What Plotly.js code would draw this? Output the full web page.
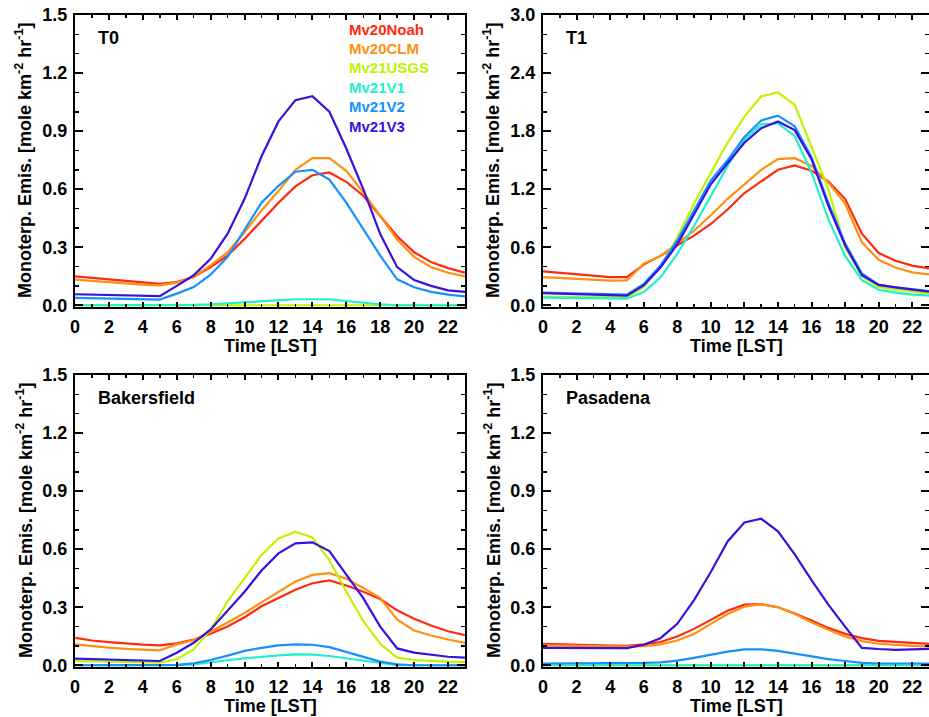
<!DOCTYPE html>
<html>
<head>
<meta charset="utf-8">
<script src="https://cdn.plot.ly/plotly-3.0.1.min.js"></script>
<style>html,body{margin:0;padding:0;background:#fff;}#chart{width:929px;height:717px;}</style>
</head>
<body>
<div id="chart"></div>
<script>
// ---- data ----
const hours = [0,1,2,3,4,5,6,7,8,9,10,11,12,13,14,15,16,17,18,19,20,21,22,23];
const seriesNames = ["Mv20Noah","Mv20CLM","Mv21USGS","Mv21V1","Mv21V2","Mv21V3"];
const seriesColors = ["#FF2A10","#FF9010","#BEF400","#22F0CC","#1690FF","#3A10E0"];
const panelNames = ["T0","T1","Bakersfield","Pasadena"];
const xTickVals = [0,2,4,6,8,10,12,14,16,18,20,22];

// T0
const t0_noah = [0.149,0.142,0.134,0.126,0.119,0.111,0.120,0.146,0.197,0.257,0.343,0.437,0.530,0.614,0.672,0.686,0.638,0.566,0.463,0.357,0.274,0.223,0.192,0.168];
const t0_clm  = [0.132,0.125,0.118,0.112,0.107,0.103,0.117,0.146,0.206,0.274,0.377,0.490,0.590,0.700,0.760,0.760,0.695,0.583,0.463,0.340,0.250,0.197,0.168,0.149];
const t0_usgs = [0,0,0,0,0,0,0,0,0,0,0,0,0,0,0,0,0,0,0,0,0,0,0,0];
const t0_v1   = [0,0,0,0,0,0,0,0.002,0.005,0.010,0.017,0.022,0.026,0.031,0.031,0.030,0.022,0.013,0.005,0,0,0,0,0];
const t0_v2   = [0.038,0.036,0.034,0.032,0.030,0.029,0.060,0.094,0.158,0.250,0.390,0.530,0.617,0.690,0.700,0.650,0.530,0.390,0.257,0.134,0.093,0.069,0.055,0.046];
const t0_v3   = [0.057,0.055,0.052,0.050,0.048,0.047,0.100,0.155,0.240,0.370,0.550,0.770,0.950,1.060,1.080,1.000,0.810,0.600,0.368,0.197,0.130,0.100,0.077,0.069];
// T1
const t1_noah = [0.35,0.335,0.32,0.305,0.29,0.29,0.42,0.51,0.62,0.72,0.84,0.99,1.16,1.28,1.40,1.445,1.39,1.28,1.10,0.74,0.54,0.46,0.41,0.38];
const t1_clm  = [0.29,0.28,0.27,0.26,0.255,0.256,0.43,0.51,0.64,0.77,0.93,1.10,1.25,1.40,1.51,1.52,1.44,1.27,1.05,0.65,0.47,0.39,0.34,0.32];
const t1_usgs = [0.09,0.088,0.086,0.084,0.082,0.082,0.19,0.40,0.70,1.05,1.37,1.68,1.95,2.16,2.20,2.07,1.64,1.20,0.60,0.30,0.19,0.16,0.14,0.12];
const t1_v1   = [0.078,0.076,0.074,0.072,0.070,0.068,0.137,0.29,0.53,0.82,1.13,1.44,1.71,1.87,1.88,1.75,1.37,0.89,0.51,0.26,0.16,0.13,0.11,0.10];
const t1_v2   = [0.13,0.125,0.12,0.115,0.11,0.11,0.22,0.41,0.67,0.98,1.29,1.50,1.74,1.91,1.96,1.85,1.53,1.06,0.64,0.33,0.21,0.185,0.165,0.145];
const t1_v3   = [0.126,0.12,0.115,0.11,0.105,0.10,0.205,0.39,0.63,0.94,1.25,1.47,1.68,1.83,1.90,1.81,1.51,1.03,0.62,0.31,0.21,0.185,0.16,0.14];
// Bakersfield
const bk_noah = [0.142,0.128,0.120,0.113,0.107,0.103,0.113,0.133,0.163,0.200,0.248,0.305,0.347,0.390,0.424,0.438,0.412,0.380,0.342,0.284,0.240,0.205,0.176,0.156];
const bk_clm  = [0.108,0.099,0.091,0.085,0.080,0.077,0.108,0.130,0.173,0.220,0.270,0.325,0.380,0.433,0.467,0.476,0.447,0.400,0.347,0.236,0.180,0.154,0.133,0.116];
const bk_usgs = [0.022,0.020,0.018,0.016,0.015,0.014,0.031,0.082,0.185,0.330,0.450,0.570,0.655,0.690,0.660,0.544,0.380,0.228,0.111,0.039,0.027,0.022,0.019,0.017];
const bk_v1   = [0,0,0,0,0,0,0,0.005,0.014,0.026,0.036,0.045,0.051,0.056,0.055,0.048,0.036,0.022,0.009,0,0,0,0,0];
const bk_v2   = [0,0,0,0,0,0,0.002,0.010,0.027,0.050,0.074,0.090,0.103,0.108,0.106,0.094,0.070,0.044,0.019,0.005,0,0,0,0];
const bk_v3   = [0.034,0.032,0.029,0.026,0.024,0.022,0.065,0.116,0.185,0.282,0.380,0.490,0.578,0.630,0.635,0.590,0.467,0.347,0.200,0.087,0.065,0.053,0.044,0.039];
// Pasadena
const pa_noah = [0.111,0.108,0.106,0.104,0.102,0.100,0.108,0.120,0.149,0.188,0.236,0.282,0.313,0.316,0.300,0.268,0.231,0.193,0.162,0.140,0.126,0.120,0.115,0.111];
const pa_clm  = [0.103,0.101,0.099,0.098,0.097,0.096,0.099,0.108,0.128,0.162,0.214,0.265,0.303,0.316,0.300,0.265,0.222,0.183,0.149,0.125,0.111,0.104,0.100,0.097];
const pa_usgs = [0,0,0,0,0,0,0,0,0,0,0,0,0,0,0,0,0,0,0,0,0,0,0,0];
const pa_v1   = [0,0,0,0,0,0,0,0,0,0,0,0,0,0,0,0,0,0,0,0,0,0,0,0];
const pa_v2   = [0.009,0.009,0.009,0.009,0.009,0.009,0.012,0.015,0.024,0.038,0.055,0.070,0.082,0.082,0.074,0.060,0.046,0.032,0.022,0.012,0.009,0.009,0.009,0.009];
const pa_v3   = [0.090,0.090,0.090,0.089,0.089,0.089,0.106,0.140,0.214,0.337,0.482,0.640,0.738,0.757,0.692,0.573,0.440,0.313,0.200,0.090,0.084,0.080,0.082,0.085];

const panelData = [
  [t0_noah,t0_clm,t0_usgs,t0_v1,t0_v2,t0_v3],
  [t1_noah,t1_clm,t1_usgs,t1_v1,t1_v2,t1_v3],
  [bk_noah,bk_clm,bk_usgs,bk_v1,bk_v2,bk_v3],
  [pa_noah,pa_clm,pa_usgs,pa_v1,pa_v2,pa_v3]
];
const yMax = [1.5, 3.0, 1.5, 1.5];
const yDtick = [0.3, 0.6, 0.3, 0.3];
const yMinor = [0.1, 0.2, 0.1, 0.1];

// ---- layout geometry (pixels) ----
const W = 929, H = 717;
const colX = [[75, 465], [543, 929]];
const rowY = [[15, 307], [375, 667]];
const FONT = "Liberation Sans, Arial, Helvetica, sans-serif";

const traces = [];
const layout = {
  width: W, height: H,
  margin: {l: 0, r: 0, t: 0, b: 0},
  paper_bgcolor: "#fff", plot_bgcolor: "#fff",
  showlegend: false,
  font: {family: FONT, size: 18, color: "#000", weight: "bold"},
  annotations: []
};

function px2x(p) { return p / W; }
function px2y(p) { return 1 - p / H; }

panelData.forEach((series, p) => {
  const col = p % 2, row = Math.floor(p / 2);
  const n = p + 1;
  const xa = "x" + (n === 1 ? "" : n), ya = "y" + (n === 1 ? "" : n);
  series.forEach((vals, s) => {
    traces.push({
      type: "scatter", mode: "lines", x: hours, y: vals,
      xaxis: xa, yaxis: ya, name: seriesNames[s],
      line: {color: seriesColors[s], width: 2.2},
      hoverinfo: "skip"
    });
  });
  const pad = yMax[p] * 0.006;
  layout["xaxis" + (n === 1 ? "" : n)] = {
    domain: [px2x(colX[col][0]), px2x(colX[col][1])],
    anchor: ya, range: [0, 23], tickvals: xTickVals,
    ticks: "inside", ticklen: 5, tickwidth: 2, tickcolor: "#000",
    mirror: "allticks", showline: true, linewidth: 2, linecolor: "#000",
    showgrid: false, zeroline: false,
    tickfont: {family: FONT, size: 18, weight: "bold", color: "#000"},
    ticklabelstandoff: 2,
    minor: {dtick: 1, tick0: 0, ticks: "inside", ticklen: 3, tickwidth: 1.5, tickcolor: "#000", showgrid: false}
  };
  layout["yaxis" + (n === 1 ? "" : n)] = {
    domain: [px2y(rowY[row][1]), px2y(rowY[row][0])],
    anchor: xa, range: [-pad, yMax[p]], tick0: 0, dtick: yDtick[p], tickformat: ".1f",
    ticks: "inside", ticklen: 8, tickwidth: 2, tickcolor: "#000",
    mirror: "allticks", showline: true, linewidth: 2, linecolor: "#000",
    showgrid: false, zeroline: false,
    tickfont: {family: FONT, size: 18, weight: "bold", color: "#000"},
    ticklabelstandoff: 2,
    minor: {dtick: yMinor[p], tick0: 0, ticks: "inside", ticklen: 4, tickwidth: 1.5, tickcolor: "#000", showgrid: false}
  };
  const cx = (colX[col][0] + colX[col][1]) / 2;
  const cy = (rowY[row][0] + rowY[row][1]) / 2;
  // x title
  layout.annotations.push({
    xref: "paper", yref: "paper", x: px2x(cx), y: px2y(rowY[row][1] + 39),
    text: "Time [LST]", showarrow: false, xanchor: "center", yanchor: "middle",
    font: {family: FONT, size: 18, weight: "bold", color: "#000"}
  });
  // y title
  layout.annotations.push({
    xref: "paper", yref: "paper", x: px2x(colX[col][0] - 51), y: px2y(cy),
    text: "Monoterp. Emis. [mole km<sup>-2</sup> hr<sup>-1</sup>]", textangle: -90,
    showarrow: false, xanchor: "center", yanchor: "middle",
    font: {family: FONT, size: 18, weight: "bold", color: "#000"}
  });
  // panel label
  layout.annotations.push({
    xref: "paper", yref: "paper", x: px2x(colX[col][0] + 21), y: px2y(rowY[row][0] + 23),
    text: panelNames[p], showarrow: false, xanchor: "left", yanchor: "middle",
    font: {family: FONT, size: 18, weight: "bold", color: "#000"}
  });
});

// legend as coloured text (top-left panel)
seriesNames.forEach((nm, s) => {
  layout.annotations.push({
    xref: "paper", yref: "paper", x: px2x(347), y: px2y(29 + s * 19.4),
    text: nm, showarrow: false, xanchor: "left", yanchor: "middle",
    font: {family: FONT, size: 15, weight: "bold", color: seriesColors[s]}
  });
});

Plotly.newPlot("chart", traces, layout, {staticPlot: true, displayModeBar: false});
</script>
</body>
</html>
